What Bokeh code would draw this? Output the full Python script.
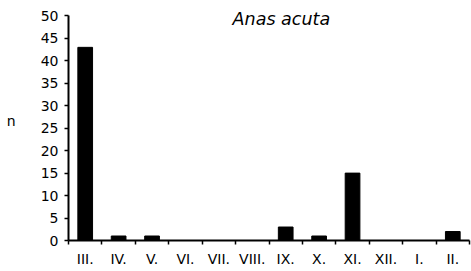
from bokeh.plotting import figure
from bokeh.models import Range1d, FixedTicker, Label
from bokeh.embed import file_html
from bokeh.resources import INLINE

months = ["III.", "IV.", "V.", "VI.", "VII.", "VIII.", "IX.", "X.", "XI.", "XII.", "I.", "II."]
counts = [43, 1, 1, 0, 0, 0, 3, 1, 15, 0, 0, 2]
y_ticks = [0, 5, 10, 15, 20, 25, 30, 35, 40, 45, 50]
title_text = "Anas acuta"
y_label = "n"

FONT = "DejaVu Sans"
n = len(months)
x_pos = [i + 0.5 for i in range(n)]
boundaries = list(range(n + 1))

p = figure(width=471, height=271, output_backend="svg", toolbar_location=None,
           x_range=Range1d(0, n), y_range=Range1d(0, 53.43),
           min_border_left=68, min_border_right=2, min_border_top=0, min_border_bottom=31)
p.outline_line_color = None
p.grid.visible = False
p.background_fill_color = "white"
p.border_fill_color = "white"

p.vbar(x=x_pos, top=counts, width=0.44, fill_color="black", line_color="black")

xa = p.xaxis[0]
xa.ticker = FixedTicker(ticks=x_pos, minor_ticks=boundaries)
xa.major_label_overrides = {x: m for x, m in zip(x_pos, months)}
xa.major_tick_line_color = None
xa.major_tick_out = 0
xa.major_tick_in = 0
xa.minor_tick_line_color = "black"
xa.minor_tick_line_width = 1.5
xa.minor_tick_out = 4
xa.minor_tick_in = 0
xa.axis_line_color = "black"
xa.axis_line_width = 2
xa.major_label_standoff = 6
xa.major_label_text_font = FONT
xa.major_label_text_font_size = "14px"
xa.major_label_text_color = "black"

ya = p.yaxis[0]
ya.bounds = (0, 50)
ya.ticker = FixedTicker(ticks=y_ticks, minor_ticks=[])
ya.major_tick_line_color = "black"
ya.major_tick_line_width = 1.5
ya.major_tick_out = 4
ya.major_tick_in = 0
ya.minor_tick_line_color = None
ya.axis_line_color = "black"
ya.axis_line_width = 2
ya.major_label_standoff = 6
ya.major_label_text_font = FONT
ya.major_label_text_font_size = "14px"
ya.major_label_text_color = "black"
ya.axis_label = y_label
ya.axis_label_orientation = "horizontal"
ya.axis_label_standoff = 22
ya.axis_label_text_font = FONT
ya.axis_label_text_font_style = "normal"
ya.axis_label_text_font_size = "14px"
ya.axis_label_text_color = "black"

title = Label(x=6.37, y=49.3, text=title_text, text_font=FONT, text_font_style="italic",
              text_font_size="17.5px", text_align="center", text_baseline="middle",
              text_color="black")
p.add_layout(title)

open("out.html", "w").write(file_html(p, INLINE))
